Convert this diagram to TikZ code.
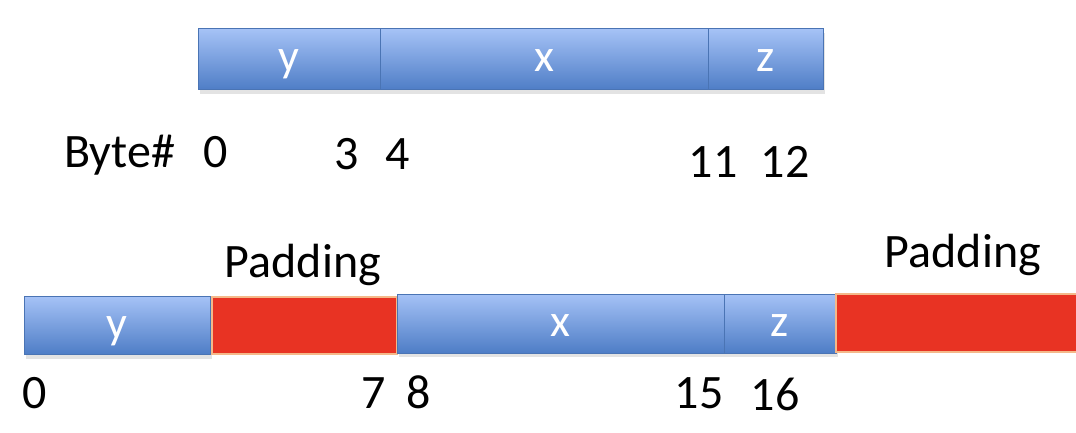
\documentclass[tikz,border=0pt]{standalone}
\usepackage{fontspec}
\setmainfont{Carlito}
\usetikzlibrary{shadows}
\definecolor{bluetop}{HTML}{A5C2F6}
\definecolor{bluebot}{HTML}{4E7DC6}
\definecolor{blueedge}{HTML}{4A74B4}
\definecolor{padred}{HTML}{E83323}
\definecolor{padedge}{HTML}{F4B98A}
\tikzset{
  field/.style={rectangle, inner sep=0pt, outer sep=0pt, top color=bluetop, bottom color=bluebot,
    draw=blueedge, line width=1pt, text=white, font=\fontsize{46}{52}\selectfont,
    text height=25pt, text depth=0pt,
    drop shadow={opacity=0.22, shadow xshift=2pt, shadow yshift=-4pt}},
  pad/.style={rectangle, inner sep=0pt, outer sep=0pt, fill=padred, draw=padedge, line width=1.5pt},
  lbl/.style={anchor=base, inner sep=0pt, font=\fontsize{48}{54}\selectfont, text=black},
}
\begin{document}
\begin{tikzpicture}[x=1pt,y=1pt]
\useasboundingbox (0,0) rectangle (1076,432);
% top row
\node[field, minimum width=182pt, minimum height=61pt] (ty) at (289,372.5) {y};
\node[field, minimum width=328pt, minimum height=61pt] (tx) at (544,372.5) {x};
\node[field, minimum width=115pt, minimum height=61pt] (tz) at (765.5,372.5) {z};
% byte numbers top
\node[lbl, anchor=base west] (byte) at (64,265) {Byte\#};
\node[lbl] (t0) at (216,265) {0};
\node[lbl] (t3) at (347,263) {3};
\node[lbl] (t4) at (398,263) {4};
\node[lbl] (t11) at (713,255) {11};
\node[lbl] (t12) at (785,255) {12};
% bottom row
\node[field, minimum width=186pt, minimum height=58pt] (by) at (117,106.5) {y};
\node[pad, minimum width=185pt, minimum height=57pt] (p1) at (304.5,106.5) {};
\node[field, minimum width=327pt, minimum height=59pt] (bx) at (560.5,108.5) {x};
\node[field, minimum width=112pt, minimum height=59pt] (bz) at (780,108.5) {z};
\node[pad, minimum width=244pt, minimum height=58pt] (p2) at (958,109) {};
% padding labels
\node[lbl] (pl1) at (303,155) {Padding};
\node[lbl] (pl2) at (963,165) {Padding};
% byte numbers bottom
\node[lbl] (b0) at (35,24) {0};
\node[lbl] (b7) at (374,24) {7};
\node[lbl] (b8) at (419,24) {8};
\node[lbl] (b15) at (699,24) {15};
\node[lbl] (b16) at (775,22) {16};
\end{tikzpicture}
\end{document}
